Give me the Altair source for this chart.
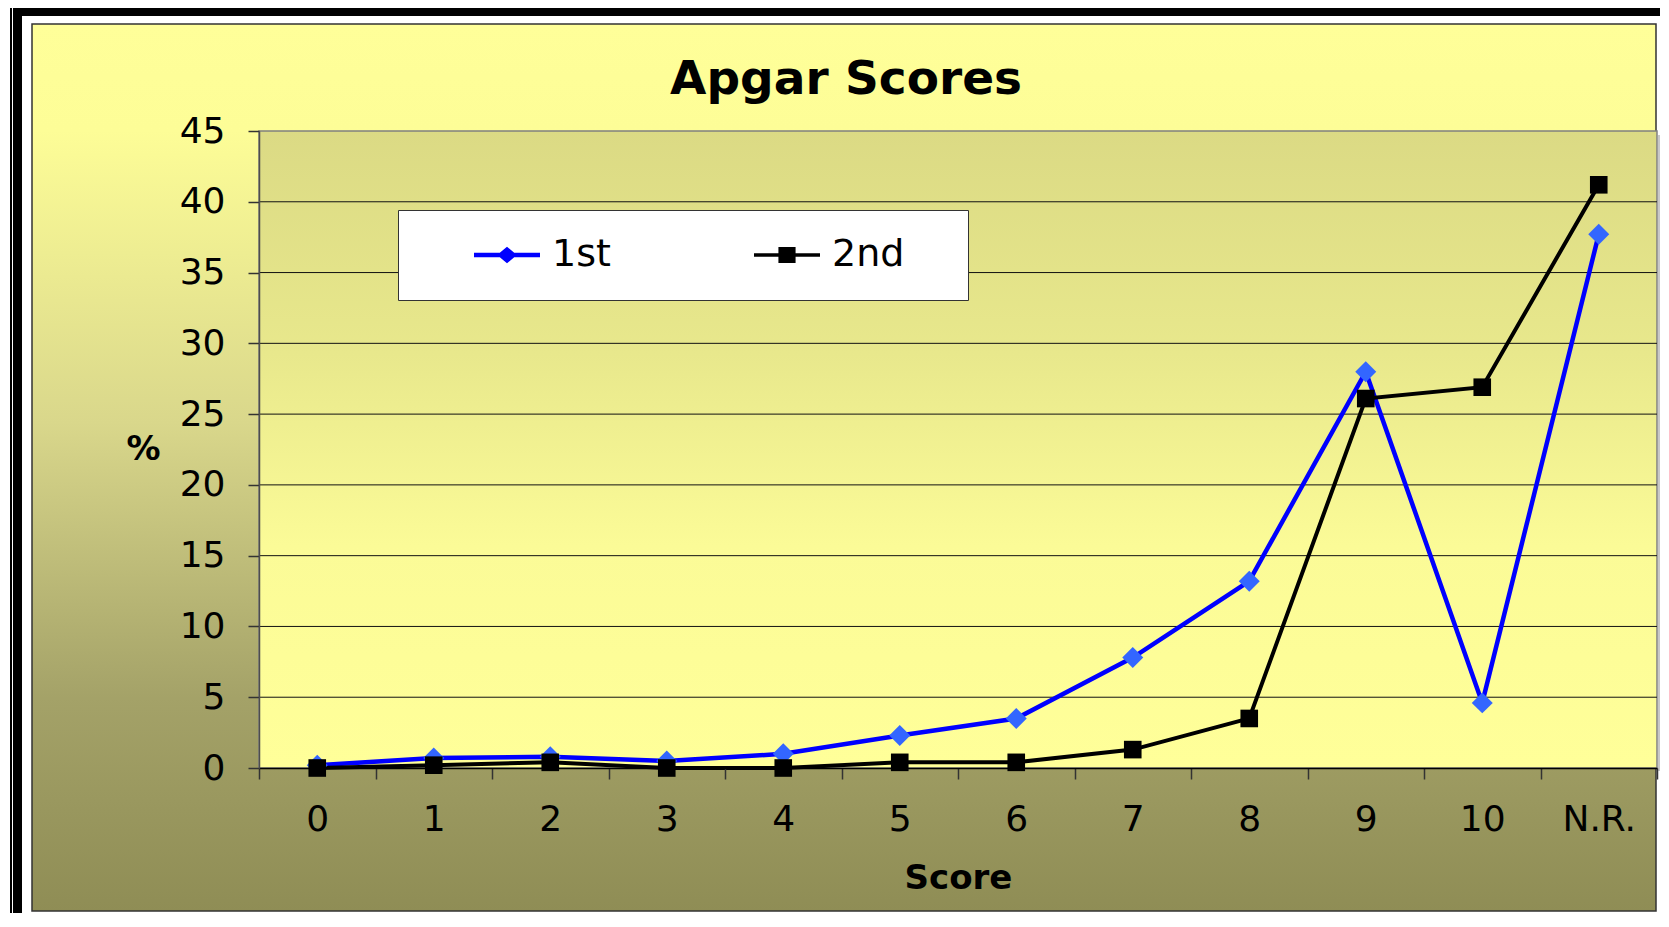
import altair as alt
import pandas as pd

# ---- data ----
categories = ["0", "1", "2", "3", "4", "5", "6", "7", "8", "9", "10", "N.R."]
first = [0.2, 0.7, 0.8, 0.5, 1.0, 2.3, 3.5, 7.8, 13.2, 28.0, 4.6, 37.7]
second = [0.0, 0.2, 0.4, 0.0, 0.0, 0.4, 0.4, 1.3, 3.5, 26.1, 26.9, 41.2]
series_names = ["1st", "2nd"]
y_ticks = [0, 5, 10, 15, 20, 25, 30, 35, 40, 45]
grid_values = [5, 10, 15, 20, 25, 30, 35, 40]

rows = []
for c, a, b in zip(categories, first, second):
    rows.append({"score": c, "series": "1st", "value": a})
    rows.append({"score": c, "series": "2nd", "value": b})
df = pd.DataFrame(rows)
grid_df = pd.DataFrame({"v": grid_values})
one = pd.DataFrame({"k": [0]})

W, H = 1398, 637
FONT = "DejaVu Sans"


def grad(stops):
    return alt.Gradient(
        gradient="linear", x1=0, x2=0, y1=0, y2=1,
        stops=[alt.GradientStop(color=c, offset=o) for o, c in stops],
    )


def panel(x1, x2, y1, y2, **mark):
    return alt.Chart(one).mark_rect(**mark).encode(
        x=alt.value(x1), x2=alt.value(x2), y=alt.value(y1), y2=alt.value(y2)
    )


frame_black = panel(-249, 1410, -130, 800, fill="black")
frame_line = panel(-247, -246, -130, 800, fill="white")
frame_white = panel(-237, 1410, -115, 788, fill="white")
chart_area = panel(
    -227, 1397, -107, 780,
    fill=grad([(0, "#FFFF99"), (0.12, "#FDFD97"), (0.45, "#D9D78B"),
               (0.76, "#A4A268"), (1, "#8F8D55")]),
    stroke="#333333", strokeWidth=1.5,
)
plot_shadow = panel(1399, 1403, 4, 640, fill="#C8C8C8")
plot_area = panel(
    0, W, 0, H,
    fill=grad([(0, "#DBDA84"), (0.35, "#E8E88C"), (0.65, "#FBFB97"), (1, "#FFFF99")]),
    stroke="#808080", strokeWidth=1.5,
)

y_scale = alt.Scale(domain=[0, 45], nice=False, zero=True)
x_enc = alt.X(
    "score:N", sort=categories,
    scale=alt.Scale(type="band", paddingInner=0, paddingOuter=0),
    axis=alt.Axis(
        title="Score", labelAngle=0, labelFont=FONT, labelFontSize=36,
        labelColor="black", tickBand="extent", tickSize=11, tickColor="#333333",
        tickWidth=1.5, domainColor="black", domainWidth=1.5, labelPadding=23,
        titleFont=FONT, titleFontSize=34, titleFontWeight="bold", titleColor="black",
        titleY=110, titleBaseline="middle", zindex=1,
    ),
)
y_enc = alt.Y(
    "value:Q", scale=y_scale,
    axis=alt.Axis(
        values=y_ticks, grid=False, tickSize=11, tickColor="#333333", tickWidth=1.5,
        domainColor="#4D4D4D", domainWidth=1.5, labelFont=FONT, labelFontSize=36,
        labelColor="black", labelPadding=23, title="%", titleAngle=0,
        titleX=-116, titleY=318, titleAlign="center", titleBaseline="middle",
        titleFont=FONT, titleFontSize=34, titleFontWeight="bold", titleColor="black",
        zindex=1,
    ),
)

grid = alt.Chart(grid_df).mark_rule(color="#111111", strokeWidth=1).encode(
    y=alt.Y("v:Q", scale=y_scale)
)

line1 = alt.Chart(df).transform_filter(alt.datum.series == "1st").mark_line(
    color="#0000FF", strokeWidth=4.5
).encode(x=x_enc, y=y_enc)
line2 = alt.Chart(df).transform_filter(alt.datum.series == "2nd").mark_line(
    color="#000000", strokeWidth=4
).encode(x=x_enc, y=y_enc)
pts1 = alt.Chart(df).transform_filter(alt.datum.series == "1st").mark_point(
    shape="diamond", filled=True, color="#3366FF", size=440, opacity=1
).encode(x=x_enc, y=y_enc)
pts2 = alt.Chart(df).transform_filter(alt.datum.series == "2nd").mark_point(
    shape="square", filled=True, color="#000000", size=310, opacity=1
).encode(x=x_enc, y=y_enc)

path1 = "M-1,-0.065L1,-0.065L1,0.065L-1,0.065Z M0,-0.25L0.3,0L0,0.25L-0.3,0Z"
path2 = "M-1,-0.055L1,-0.055L1,0.055L-1,0.055Z M-0.26,-0.24L0.26,-0.24L0.26,0.24L-0.26,0.24Z"

leg = alt.Legend(
    title=" ", titleOrient="right", titlePadding=44, titleFontSize=10,
    orient="none", legendX=139, legendY=79, direction="horizontal",
    fillColor="white", strokeColor="#333333", padding=20, clipHeight=50,
    symbolSize=4356, symbolOffset=56, labelOffset=12, columnPadding=87,
    labelFont=FONT, labelFontSize=38, labelColor="black", labelLimit=600,
    symbolStrokeWidth=0, zindex=1,
)
legend_layer = alt.Chart(df).transform_filter("false").mark_point(
    filled=True, size=4356, opacity=1, strokeWidth=0
).encode(
    color=alt.Color("series:N", scale=alt.Scale(domain=series_names, range=["#0000FF", "#000000"]), legend=leg),
    shape=alt.Shape("series:N", scale=alt.Scale(domain=series_names, range=[path1, path2]), legend=leg),
)

chart = alt.layer(
    frame_black, frame_line, frame_white, chart_area, plot_shadow, plot_area,
    grid, line1, line2, pts1, pts2, legend_layer,
).properties(
    width=W, height=H,
    padding={"left": 251, "top": 123, "right": 3, "bottom": 145},
    autosize=alt.AutoSizeParams(type="none"),
    background="white",
    title=alt.TitleParams(
        "Apgar Scores", font=FONT, fontSize=47, fontWeight="bold", color="black",
        anchor="middle", frame="group", dx=-112, offset=-140, baseline="alphabetic",
    ),
).configure_view(strokeWidth=0)

chart.save("out.html", embed_options={"renderer": "svg", "actions": False})
